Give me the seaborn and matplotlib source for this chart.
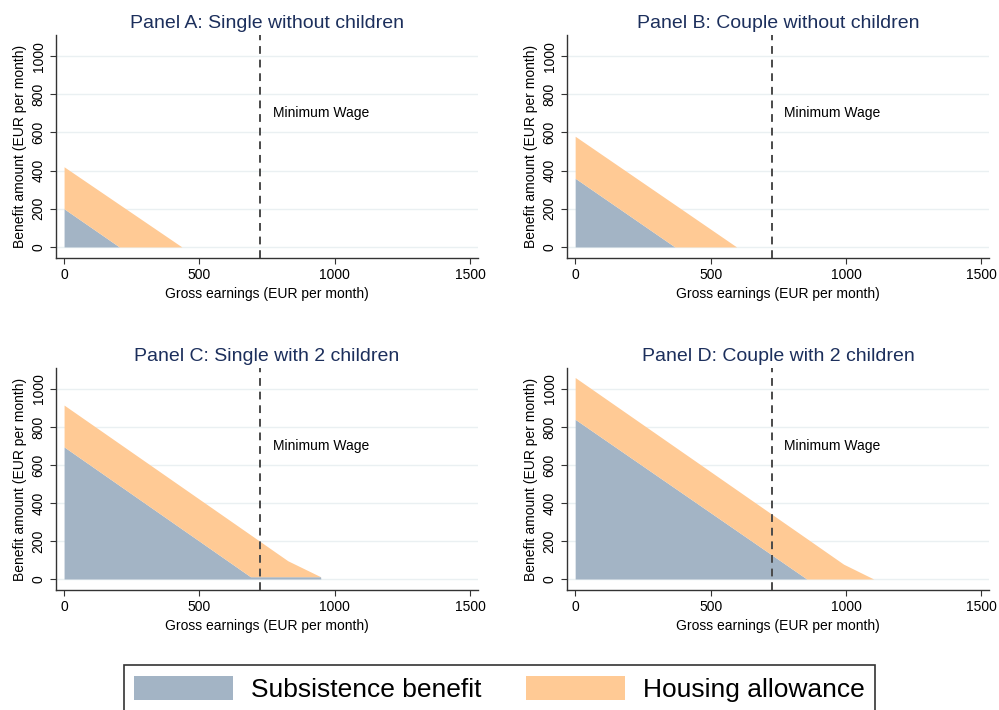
import matplotlib
matplotlib.use("Agg")
import matplotlib.pyplot as plt
import seaborn as sns
from matplotlib.patches import Patch

# benefit schedules (EUR per month)
titles = ["Panel A: Single without children", "Panel B: Couple without children",
          "Panel C: Single with 2 children", "Panel D: Couple with 2 children"]
earn_a = [0, 204, 435, 1500]
subs_a = [200, 0, 0, 0]
hous_a = [220, 223, 0, 0]
earn_b = [0, 368, 596, 1500]
subs_b = [360, 0, 0, 0]
hous_b = [220, 222, 0, 0]
earn_c = [0, 688, 826, 947, 948, 1500]
subs_c = [695, 12, 12, 12, 0, 0]
hous_c = [220, 221, 84, 0, 0, 0]
earn_d = [0, 855, 991, 1102, 1500]
subs_d = [840, 0, 0, 0, 0]
hous_d = [220, 213, 78, 0, 0]
min_wage = 725

sns.set_style("white")
plt.rcParams["font.family"] = ["Liberation Sans", "DejaVu Sans"]
plt.rcParams["text.color"] = "black"
plt.rcParams["axes.labelcolor"] = "black"
plt.rcParams["xtick.color"] = "black"
plt.rcParams["ytick.color"] = "black"

col_sub = "#a3b4c5"
col_hous = "#ffca95"

fig = plt.figure(figsize=(9.99, 7.1), dpi=100)
pos = [[0.056, 0.6366, 0.4224, 0.314], [0.5676, 0.6366, 0.4224, 0.314],
       [0.056, 0.169, 0.4224, 0.3127], [0.5676, 0.169, 0.4224, 0.3127]]
data = [(earn_a, subs_a, hous_a), (earn_b, subs_b, hous_b),
        (earn_c, subs_c, hous_c), (earn_d, subs_d, hous_d)]

for i in range(4):
    ax = fig.add_axes(pos[i])
    x, s, h = data[i]
    tot = [a + b for a, b in zip(s, h)]
    ax.fill_between(x, 0, s, color=col_sub, linewidth=0, zorder=2)
    ax.fill_between(x, s, tot, color=col_hous, linewidth=0, zorder=2)
    ax.axvline(min_wage, color="#4a4a4a", linestyle=(0, (4, 3)), linewidth=1.4, zorder=3)
    ax.text(min_wage + 46, 700, "Minimum Wage", fontsize=10, va="center")
    ax.set_xlim(-30, 1528)
    ax.set_ylim(-58, 1110)
    ax.set_xticks([0, 500, 1000, 1500])
    ax.set_yticks([0, 200, 400, 600, 800, 1000])
    ax.set_yticklabels(["0", "200", "400", "600", "800", "1000"], rotation=90, va="center")
    ax.yaxis.grid(True, color="#eaf0f2", linewidth=1, zorder=0)
    ax.set_axisbelow(True)
    sns.despine(ax=ax)
    for sp in ["left", "bottom"]:
        ax.spines[sp].set_color("#333333")
        ax.spines[sp].set_linewidth(1)
    ax.tick_params(axis="both", labelsize=10, length=4, color="#333333", left=True, bottom=True)
    ax.set_xlabel("Gross earnings (EUR per month)", fontsize=10, labelpad=3)
    ax.set_ylabel("Benefit amount (EUR per month)", fontsize=10, labelpad=3)
    ax.set_title(titles[i], fontsize=14, color="#1c2f5c", pad=5)

handles = [Patch(facecolor=col_sub, edgecolor="none", label="Subsistence benefit"),
           Patch(facecolor=col_hous, edgecolor="none", label="Housing allowance")]
leg = fig.legend(handles=handles, loc="lower center", bbox_to_anchor=(0.5, -0.022), ncol=2,
                 fontsize=19, frameon=True, fancybox=False, edgecolor="black",
                 handlelength=3.75, handleheight=1.0, handletextpad=0.67,
                 columnspacing=1.7, borderpad=0.4)
leg.get_frame().set_linewidth(1.2)

fig.savefig("out.png", dpi=100)
